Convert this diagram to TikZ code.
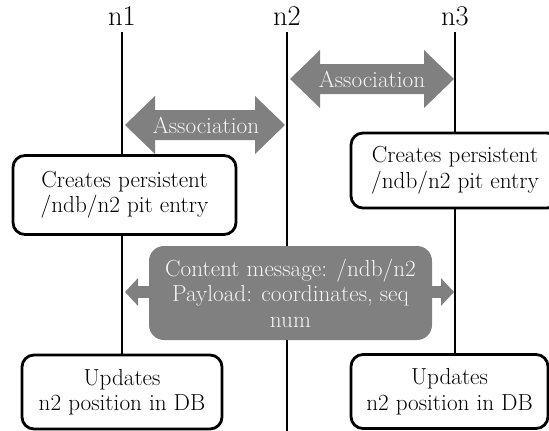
\documentclass[tikz,border=0pt]{standalone}
\usetikzlibrary{arrows.meta}
\definecolor{boxgray}{RGB}{128,128,128}
\definecolor{lighttext}{RGB}{245,245,245}
\tikzset{
  lifeline/.style={line width=2.8pt, black},
  wbox/.style={draw=black, line width=2.8pt, fill=white, rounded corners=12pt, align=center, inner sep=0pt,
    font=\fontsize{23.2}{25.5}\selectfont},
  gbox/.style={fill=boxgray, rounded corners=15pt, align=center, inner sep=0pt, text=lighttext,
    font=\fontsize{23.2}{25.5}\selectfont},
  lbl/.style={anchor=base, inner sep=0pt, font=\fontsize{28.5}{32}\selectfont},
  atext/.style={text=lighttext, inner sep=0pt, font=\fontsize{23.2}{25.5}\selectfont},
  assoc/.style={fill=boxgray},
  msgarrow/.style={line width=12pt, draw=boxgray,
    {Triangle[length=13pt,width=27pt]}-{Triangle[length=13pt,width=27pt]}}
}
\begin{document}
\begin{tikzpicture}[x=1pt,y=-1pt]
\useasboundingbox (0,0) rectangle (549,431);
% labels
\node[lbl] (l1) at (122,25) {n1};
\node[lbl] (l2) at (287,25) {n2};
\node[lbl] (l3) at (455,25) {n3};
% lifeline coordinates
\coordinate (t1) at (122,32);
\coordinate (t2) at (287,32);
\coordinate (t3) at (455,32);
\coordinate (b1) at (122,360);
\coordinate (b2) at (287,431);
\coordinate (b3) at (455,360);
\draw[lifeline] (t1) -- (b1);
\draw[lifeline] (t2) -- (b2);
\draw[lifeline] (t3) -- (b3);
% association arrows
\fill[assoc] (290,79) -- (320,50) -- (320,64) -- (424,64) -- (424,50) -- (454,79)
  -- (424,108) -- (424,94) -- (320,94) -- (320,108) -- cycle;
\node[atext] (a1) at (372,79) {Association};
\fill[assoc] (125,125) -- (155,96) -- (155,110) -- (255,110) -- (255,96) -- (285,125)
  -- (255,154) -- (255,140) -- (155,140) -- (155,154) -- cycle;
\node[atext] (a2) at (206,125) {Association};
% boxes
\node[wbox, minimum width=223pt, minimum height=79pt] (c1) at (124.5,195) {Creates persistent\\/ndb/n2 pit entry};
\node[wbox, minimum width=208pt, minimum height=75pt] (c3) at (455,170.5) {Creates persistent\\/ndb/n2 pit entry};
% message
\coordinate (m1) at (125,292);
\coordinate (m3) at (454,292);
\draw[msgarrow] (m1) -- (m3);
\node[gbox, minimum width=283pt, minimum height=94pt] (msg) at (290.5,293) {Content message: /ndb/n2\\Payload: coordinates, seq\\num};
% bottom boxes
\node[wbox, minimum width=200pt, minimum height=74pt] (u1) at (122,392) {Updates\\n2 position in DB};
\node[wbox, minimum width=197pt, minimum height=74pt] (u3) at (449.5,391.5) {Updates\\n2 position in DB};
\end{tikzpicture}
\end{document}
